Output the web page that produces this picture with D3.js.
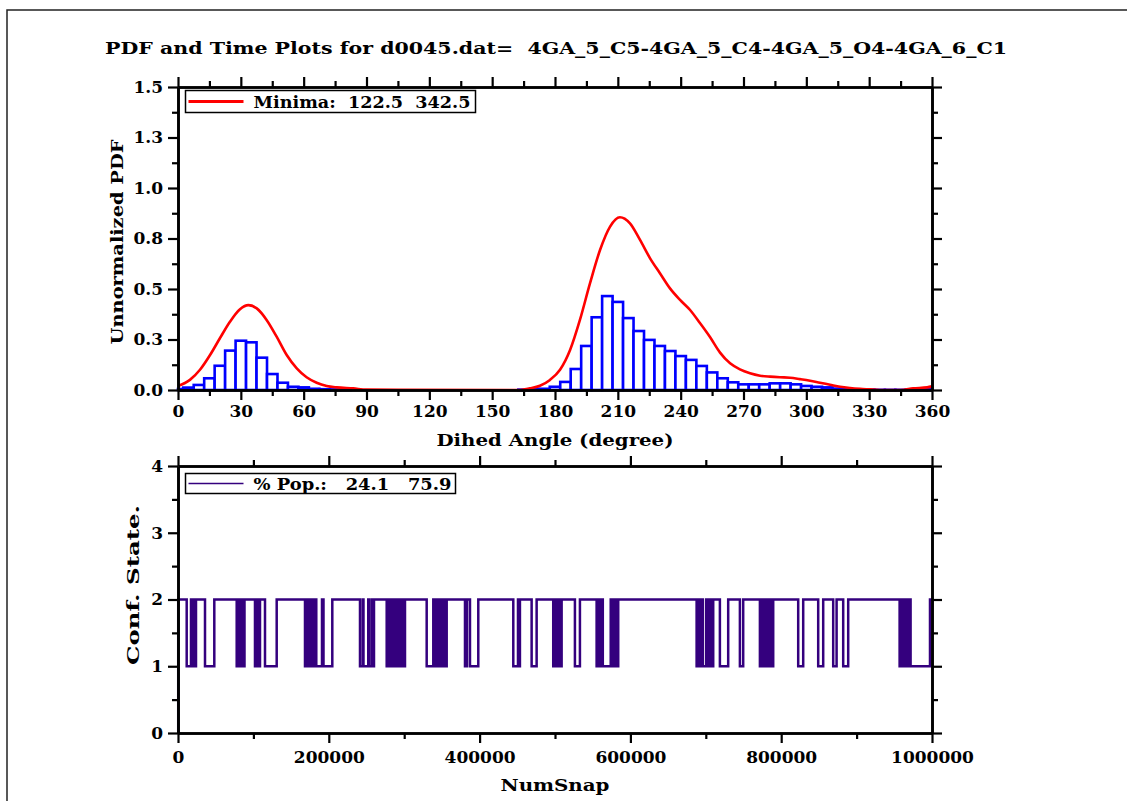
<!DOCTYPE html>
<html><head><meta charset="utf-8">
<script src="https://cdn.jsdelivr.net/npm/d3@7"></script>
<style>
body{margin:0;background:#fff}
svg{display:block}
text{font-family:"DejaVu Serif",serif;font-weight:bold;fill:#000;white-space:pre}
</style>
</head><body>
<svg id="c" width="1127" height="801"></svg>
<script>
// ---------------- DATA ----------------
const titleText = "PDF and Time Plots for d0045.dat=  4GA_5_C5-4GA_5_C4-4GA_5_O4-4GA_6_C1";
const topXTitle = "Dihed Angle (degree)";
const topYTitle = "Unnormalized PDF";
const botXTitle = "NumSnap";
const botYTitle = "Conf. State.";
const legendTop = "Minima:  122.5  342.5";
const legendBot = "% Pop.:   24.1   75.9";

const angleTicks = [0,30,60,90,120,150,180,210,240,270,300,330,360];
const angleMinor = [15,45,75,105,135,165,195,225,255,285,315,345];
const pdfTicks = [0,0.25,0.5,0.75,1.0,1.25,1.5];
const pdfTickLabels = ["0.0","0.3","0.5","0.8","1.0","1.3","1.5"];
const pdfMinor = [0.125,0.375,0.625,0.875,1.125,1.375];

// histogram (bin centres, degrees) and heights
const histAngles = [0,5,10,15,20,25,30,35,40,45,50,55,60,65,70,75,80,
  165,170,175,180,185,190,195,200,205,210,215,220,225,230,235,240,245,250,255,260,265,
  270,275,280,285,290,295,300,305,310,315,320,325,330,335,340,345,350,355,360];
const histValues = [0.005,0.012,0.025,0.058,0.12,0.195,0.244,0.236,0.16,0.079,0.036,0.016,0.013,0.006,0.004,0.003,0.002,
  0.002,0.004,0.006,0.016,0.04,0.104,0.218,0.36,0.465,0.436,0.356,0.292,0.248,0.218,0.193,0.168,0.149,0.119,0.087,0.058,0.038,
  0.028,0.028,0.028,0.033,0.033,0.028,0.02,0.016,0.013,0.007,0.004,0.003,0.002,0.001,0.001,0.001,0.002,0.005,0.007];

// smoothed PDF curve
const pdfAngles = [0,5.7,10.5,15.3,20,24.8,29.6,33.6,37.6,42.3,47.1,51.9,56.7,61.4,66.2,71,75.8,83.7,90,
  160,163.3,168,172.8,177.6,182.4,187.2,191.9,196.7,201.5,206.3,211,215.8,220.6,225.4,230.1,234.9,239.7,244.5,249.3,
  254,258.8,263.6,268.3,273.1,277.9,282.7,287.4,292.2,297,301.8,306.5,311.3,316.1,320.9,325.6,330.4,335,345,351,357.7,360];
const pdfValues = [0.02,0.05,0.1,0.173,0.256,0.338,0.4,0.42,0.404,0.347,0.264,0.173,0.107,0.063,0.036,0.02,0.013,0.008,0.002,
  0,0,0.008,0.021,0.05,0.1,0.198,0.347,0.528,0.693,0.809,0.855,0.825,0.743,0.652,0.578,0.503,0.446,0.396,0.33,
  0.262,0.185,0.132,0.102,0.083,0.071,0.066,0.063,0.061,0.054,0.046,0.036,0.026,0.016,0.01,0.006,0.003,0,0,0.008,0.013,0.018];

const snapTicks = [0,200000,400000,600000,800000,1000000];
const snapMinor = [100000,300000,500000,700000,900000];
const stateTicks = [0,1,2,3,4];
const stateMinor = [0.5,1.5,2.5,3.5];

// time series: starts in state 0, jumps to state 2, then toggles 2<->1 at each switch snap
const initialSnaps = [0,300];
const initialStates = [0,2];
const switchSnaps = [
 11540,17240,17900,18600,19300,20100,20800,21500,22200,22900,23300,23870,
 35810,48140,
 77850,78800,79500,80600,81300,82400,83000,84100,84800,85700,86300,88190,
 102100,104000,104700,105600,106300,107200,107800,108750,
 115380,130900,
 168430,169800,170500,171700,172400,173500,174200,175300,176000,177200,177900,179000,179700,180900,181600,182700,183400,
 190980,192970,204640,
 241370,245000,246000,252300,253300,256800,257800,259940,
 276780,278000,278800,280200,281000,282400,283200,284600,285400,286900,287700,289200,290000,291500,292300,293800,294600,296000,296800,298200,299000,301050,
 329820,338580,339400,340700,341500,342900,343700,345100,345900,347300,348100,349500,350300,351700,352500,353900,354700,356350,
 380620,383270,387250,398260,444680,450910,452240,453490,469010,475640,
 497650,498700,499500,500800,501600,502900,503700,505000,505800,507100,507900,508790,
 526420,533060,
 555200,556300,557100,558400,559200,560500,561300,562600,563400,
 573900,574700,576000,576800,578100,578900,580200,581000,582300,583000,583850,
 687820,689000,689800,691100,691900,693200,694000,695300,696100,700500,701300,702600,703400,704700,705500,706800,707600,708600,709200,709840,
 718690,729700,745220,749600,
 771760,772900,773700,775000,775800,777100,777900,779200,780000,781300,782100,783400,784200,785500,786300,787600,788400,789400,
 822550,829180,849070,855700,868960,873470,882220,888860,
 957050,958200,959000,960300,961100,962400,963200,964500,965300,966600,967400,968700,969500,970800,971600,
 997350];
const endSnap = 1000000;

// ---------------- DRAW ----------------
const svg = d3.select("#c");
const red = "#ff0000", blue = "#0000ff", purple = "#34007e";

// outer frame
svg.append("path").attr("d","M7,801 V10 H1127").attr("fill","none").attr("stroke","#222").attr("stroke-width",1.5);

svg.append("text").attr("x",556).attr("y",54).attr("text-anchor","middle")
  .attr("font-size",16).attr("textLength",902).attr("lengthAdjust","spacingAndGlyphs").text(titleText);

const L = 178, R = 932;
const x1 = d3.scaleLinear([0,360],[L,R]);
const y1 = d3.scaleLinear([0,1.5],[390,87]);
const x2 = d3.scaleLinear([0,1e6],[L,R]);
const y2 = d3.scaleLinear([0,4],[733,466]);

// histogram
svg.append("g").selectAll("rect").data(histAngles.map((a,i)=>({a,v:histValues[i]}))).join("rect")
  .attr("x",d=>x1(Math.max(0,d.a-2.5)))
  .attr("width",d=>x1(Math.min(360,d.a+2.5))-x1(Math.max(0,d.a-2.5)))
  .attr("y",d=>y1(d.v)).attr("height",d=>y1(0)-y1(d.v))
  .attr("fill","#fff").attr("stroke",blue).attr("stroke-width",2.6);

// pdf line
const pdfLine = d3.line().x(d=>x1(d[0])).y(d=>y1(d[1])).curve(d3.curveMonotoneX);
svg.append("path").datum(pdfAngles.map((a,i)=>[a,pdfValues[i]]))
  .attr("d",pdfLine).attr("fill","none").attr("stroke",red).attr("stroke-width",2.6);

// time series
const pts = initialSnaps.map((s,i)=>[s,initialStates[i]]);
let st = 2;
switchSnaps.forEach(s=>{ st = (st===2)?1:2; pts.push([s,st]); });
pts.push([endSnap,st]);
svg.append("path").datum(pts)
  .attr("d",d3.line().x(d=>x2(d[0])).y(d=>y2(d[1])).curve(d3.curveStepAfter))
  .attr("fill","none").attr("stroke",purple).attr("stroke-width",2.5);

// axes helper
function axisSet(orient, scale, pos, major, minor, fmt, pad){
  const mk = {bottom:d3.axisBottom,top:d3.axisTop,left:d3.axisLeft,right:d3.axisRight}[orient];
  const tr = (orient==="bottom"||orient==="top") ? `translate(0,${pos})` : `translate(${pos},0)`;
  const gm = svg.append("g").attr("transform",tr)
    .call(mk(scale).tickValues(minor).tickSize(6).tickSizeOuter(0).tickFormat(""));
  const g = svg.append("g").attr("transform",tr)
    .call(mk(scale).tickValues(major).tickSize(10).tickSizeOuter(0).tickPadding(pad||4).tickFormat(fmt||""));
  [gm,g].forEach(a=>{
    a.select(".domain").attr("stroke","#000").attr("stroke-width",2.6);
    a.selectAll(".tick line").attr("stroke","#000").attr("stroke-width",2.2);
    a.selectAll("text").attr("font-size",17).attr("font-family","DejaVu Serif").attr("font-weight","bold").attr("fill","#000");
  });
  return g;
}
// top plot axes
axisSet("bottom",x1,390,angleTicks,angleMinor,d=>String(d),5);
axisSet("top",x1,87,angleTicks,angleMinor);
axisSet("left",y1,L,pdfTicks,pdfMinor,(d,i)=>pdfTickLabels[i],5);
axisSet("right",y1,R,pdfTicks,pdfMinor);
// bottom plot axes
axisSet("bottom",x2,733,snapTicks,snapMinor,d=>String(d),8);
axisSet("top",x2,466,snapTicks,snapMinor);
axisSet("left",y2,L,stateTicks,stateMinor,d=>String(d),5);
axisSet("right",y2,R,stateTicks,stateMinor);

// axis titles
svg.append("text").attr("x",555).attr("y",446).attr("text-anchor","middle").attr("font-size",17)
  .attr("textLength",237).attr("lengthAdjust","spacingAndGlyphs").text(topXTitle);
svg.append("text").attr("transform","translate(123,242) rotate(-90)").attr("text-anchor","middle").attr("font-size",17)
  .attr("textLength",205).attr("lengthAdjust","spacingAndGlyphs").text(topYTitle);
svg.append("text").attr("x",555).attr("y",791).attr("text-anchor","middle").attr("font-size",17)
  .attr("textLength",109).attr("lengthAdjust","spacingAndGlyphs").text(botXTitle);
svg.append("text").attr("transform","translate(139,585) rotate(-90)").attr("text-anchor","middle").attr("font-size",17)
  .attr("textLength",160).attr("lengthAdjust","spacingAndGlyphs").text(botYTitle);

// legends
function legend(x0,y0,w,h,color,lw,label,tl){
  const g = svg.append("g");
  g.append("rect").attr("x",x0).attr("y",y0).attr("width",w).attr("height",h)
    .attr("fill","#fff").attr("stroke","#000").attr("stroke-width",1.5);
  g.append("line").attr("x1",x0+3).attr("x2",x0+58).attr("y1",y0+h/2).attr("y2",y0+h/2)
    .attr("stroke",color).attr("stroke-width",lw);
  g.append("text").attr("x",x0+68).attr("y",y0+h/2+6).attr("font-size",16)
    .attr("textLength",tl).attr("lengthAdjust","spacingAndGlyphs").text(label);
}
legend(185.5,90.5,290,22,red,3,legendTop,217);
legend(185.5,473.5,270,20,purple,1.5,legendBot,198);
</script>
</body></html>
